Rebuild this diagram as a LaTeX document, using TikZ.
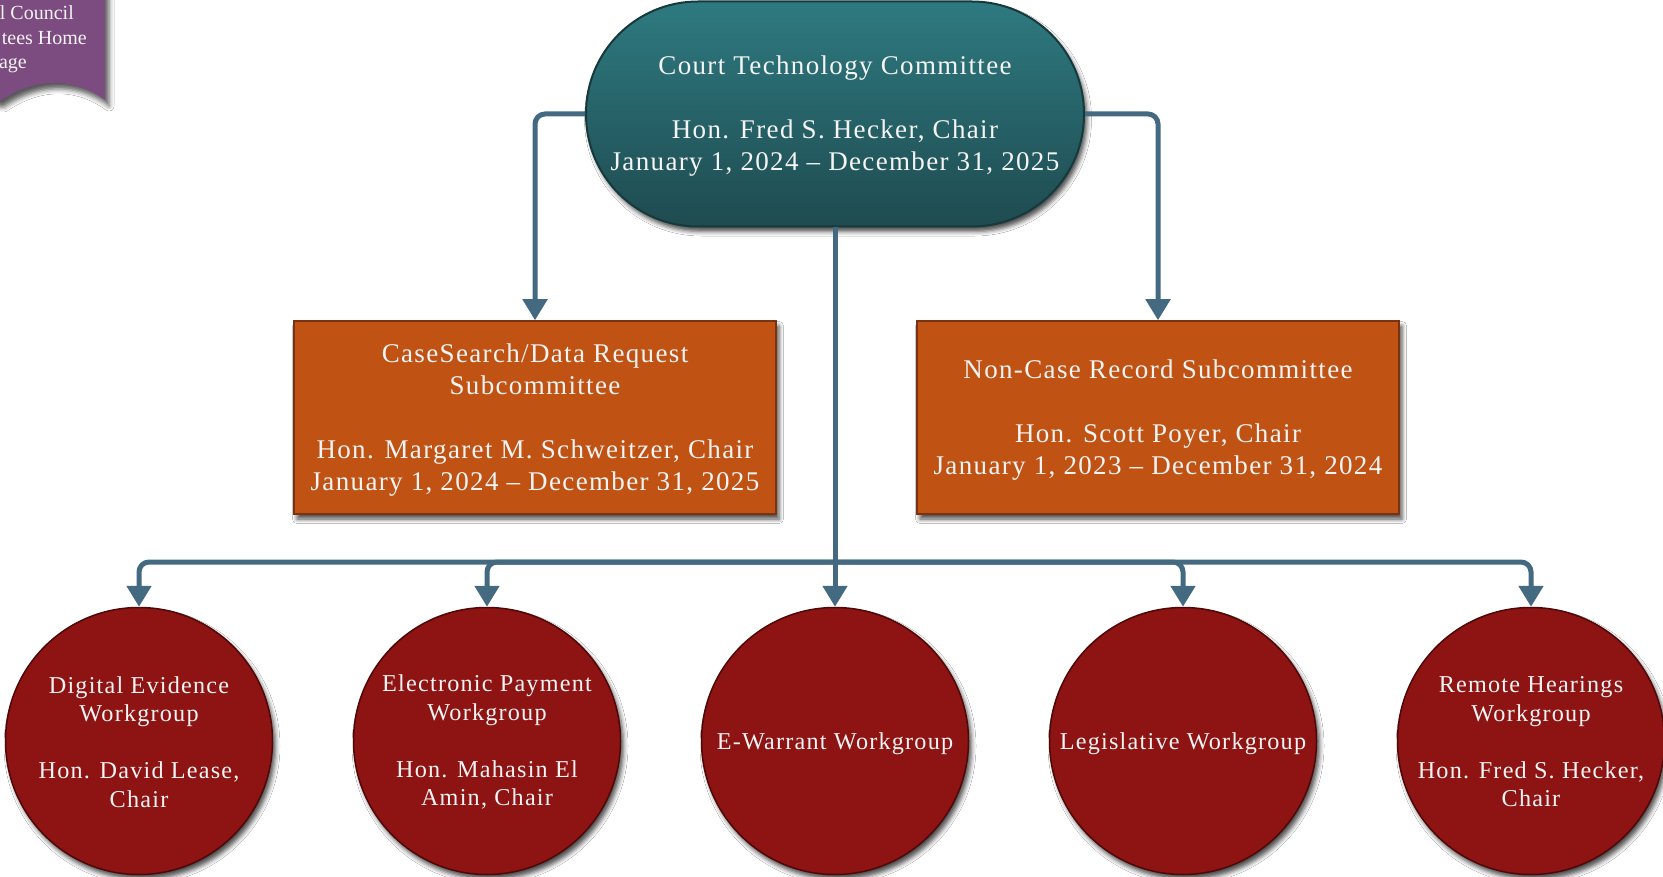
\documentclass[tikz,border=0pt]{standalone}
\usepackage{fontspec}
\setmainfont{Liberation Serif}[LetterSpace=5]
\usetikzlibrary{shadows.blur,arrows.meta}
\definecolor{tealA}{HTML}{2E7A80}
\definecolor{tealB}{HTML}{1E4B50}
\definecolor{tealE}{HTML}{16393C}
\definecolor{orF}{HTML}{C05314}
\definecolor{orE}{HTML}{7A3210}
\definecolor{rdF}{HTML}{8E1313}
\definecolor{rdE}{HTML}{4E0808}
\definecolor{connC}{HTML}{436A80}
\definecolor{purpC}{HTML}{7C4B80}
\definecolor{txtC}{HTML}{F4F4F4}
\begin{document}
\begin{tikzpicture}[x=1pt,y=-1pt,
  shad/.style={blur shadow={shadow xshift=3pt,shadow yshift=-5pt,shadow blur radius=4.5pt,shadow opacity=70}},
  committee/.style={draw=tealE,line width=2pt,rounded corners=112pt,top color=tealA,bottom color=tealB,
    minimum width=498pt,minimum height=225pt,inner sep=0pt,shad},
  subbox/.style={draw=orE,line width=1.5pt,fill=orF,minimum width=482pt,minimum height=193pt,
    inner sep=0pt,shad},
  wgroup/.style={circle,draw=rdE,line width=1.5pt,fill=rdF,minimum size=267pt,inner sep=0pt,shad},
  bigtext/.style={text=txtC,align=center,inner sep=0pt,font=\fontsize{27}{32}\selectfont},
  wgtext/.style={text=txtC,align=center,inner sep=0pt,font=\fontsize{24.2}{28.5}\selectfont},
  conn/.style={draw=connC,line width=5pt,rounded corners=10pt,-{Triangle[width=24pt,length=21pt]}},
  plain/.style={draw=connC,line width=5pt},
  bantext/.style={anchor=base east,text=txtC,inner sep=0pt,font=\fontsize{20}{25}\selectfont\addfontfeatures{LetterSpace=0}}
]
\useasboundingbox[fill=white] (0,0) rectangle (1663,877);

% banner
\path[fill=purpC,blur shadow={shadow xshift=4pt,shadow yshift=-6pt,shadow blur radius=5pt,shadow opacity=65}]
  (-10,-10) -- (105,-10) -- (105,100) .. controls (78,80) and (40,74) .. (0,101) -- (-10,101) -- cycle;
\node[bantext] (b1) at (74,20) {l Council};
\node[bantext] (b2) at (87,45) {tees Home};
\node[bantext] (b3) at (27,69) {age};

% top committee
\node[committee] (ctc) at (835,114) {};
\node[bigtext] (ctcT) at ([yshift=-2pt]ctc.center) {Court Technology Committee\\[32pt]Hon. Fred S. Hecker, Chair\\January 1, 2024 -- December 31, 2025};

% subcommittees
\node[subbox] (cs) at (535,417.5) {};
\node[bigtext] (csT) at ([yshift=-3pt]cs.center) {CaseSearch/Data Request\\Subcommittee\\[32pt]Hon. Margaret M. Schweitzer, Chair\\January 1, 2024 -- December 31, 2025};
\node[subbox] (nc) at (1158,417.5) {};
\node[bigtext] (ncT) at ([yshift=-3pt]nc.center) {Non-Case Record Subcommittee\\[32pt]Hon. Scott Poyer, Chair\\January 1, 2023 -- December 31, 2024};

% workgroups
\node[wgroup] (w1) at (139,741) {};
\node[wgtext] (w1T) at ([yshift=-1pt]w1.center) {Digital Evidence\\Workgroup\\[28.5pt]Hon. David Lease,\\Chair};
\node[wgroup] (w2) at (487,741) {};
\node[wgtext] (w2T) at ([yshift=-1pt]w2.center) {Electronic Payment\\Workgroup\\[28.5pt]Hon. Mahasin El\\Amin, Chair};
\node[wgroup] (w3) at (835,741) {};
\node[wgtext] (w3T) at ([yshift=-3pt]w3.center) {E-Warrant Workgroup};
\node[wgroup] (w4) at (1183,741) {};
\node[wgtext] (w4T) at ([yshift=-3pt]w4.center) {Legislative Workgroup};
\node[wgroup] (w5) at (1531,741) {};
\node[wgtext] (w5T) at ([yshift=-1pt]w5.center) {Remote Hearings\\Workgroup\\[28.5pt]Hon. Fred S. Hecker,\\Chair};

% connectors
\draw[conn] (ctc.west) -| (cs.north);
\draw[conn] (ctc.east) -| (nc.north);
\coordinate (bus) at (835,562);
\draw[plain] (ctc.south) -- (bus);
\draw[conn] (bus) -| (w1.north);
\draw[conn] (bus) -| (w2.north);
\draw[conn] (bus) -- (w3.north);
\draw[conn] (bus) -| (w4.north);
\draw[conn] (bus) -| (w5.north);
\end{tikzpicture}
\end{document}
